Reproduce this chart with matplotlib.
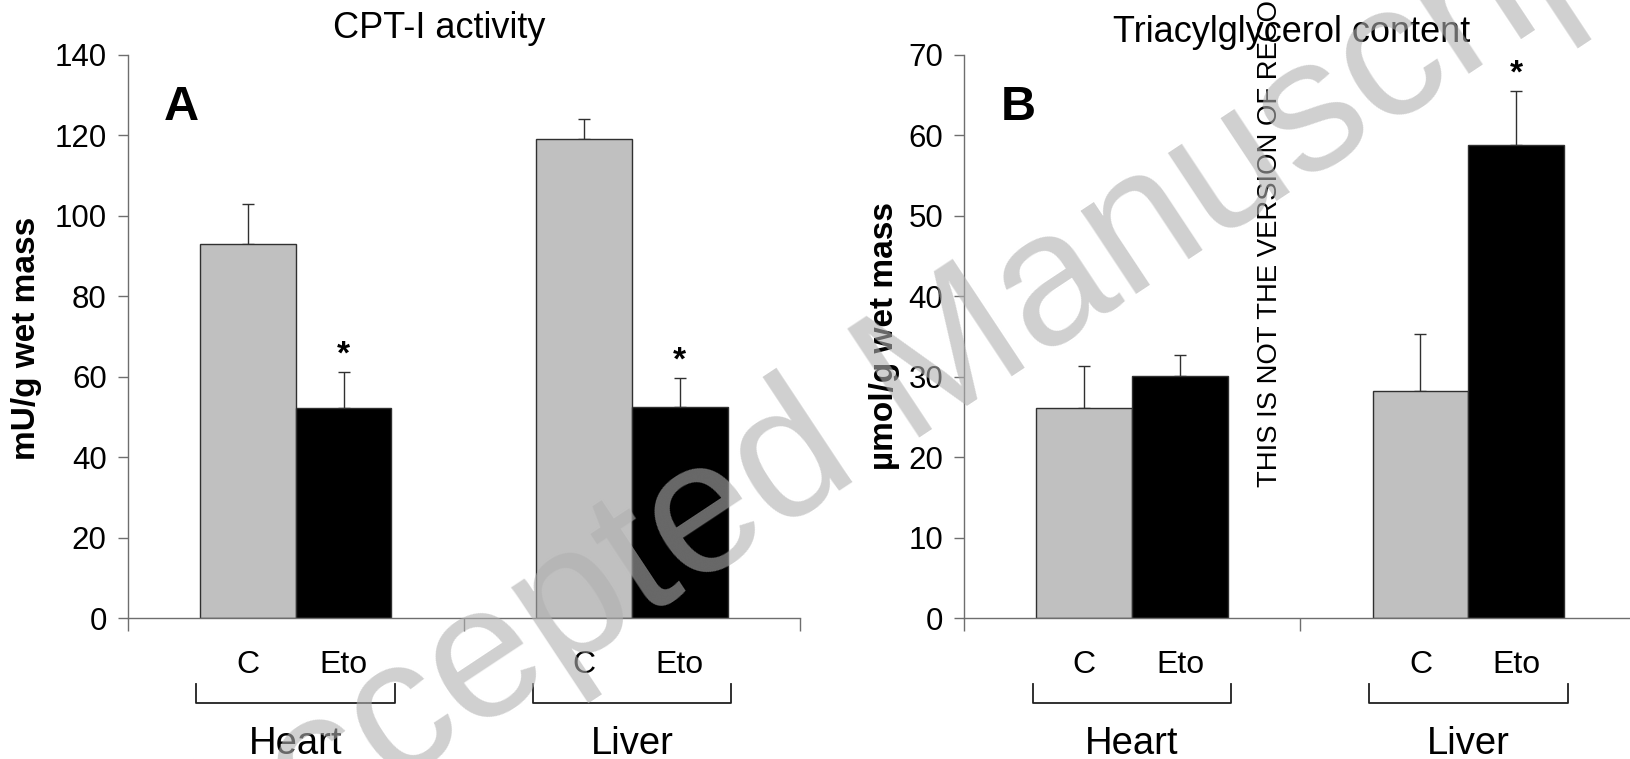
import numpy as np
import matplotlib.pyplot as plt

plt.rcParams['font.family'] = ['Liberation Sans', 'DejaVu Sans']

# values
groups = ['Heart', 'Liver']
treatments = ['C', 'Eto']

cpt_c = [92.9, 119.0]
cpt_c_err = [10.0, 5.0]
cpt_eto = [52.3, 52.5]
cpt_eto_err = [8.8, 7.1]
cpt_star = [True, True]

tag_c = [26.1, 28.2]
tag_c_err = [5.2, 7.1]
tag_eto = [30.1, 58.8]
tag_eto_err = [2.6, 6.7]
tag_star = [False, True]

W, H = 1630, 759
fig = plt.figure(figsize=(W / 100, H / 100), dpi=100)


def fx(x):
    return x / W


def fy(y):
    return 1 - y / H


def ay(y):
    # pixel row -> axes fraction (axes run from row 55 to row 618)
    return (618 - y) / 563.0


bw = 0.285
axis_col = '#6e6e6e'


def panel(rect, c_vals, c_err, e_vals, e_err, stars, ymax, ystep):
    ax = fig.add_axes(rect)
    centers = np.arange(len(groups)) + 0.5
    xc = centers - bw / 2
    xe = centers + bw / 2
    ax.bar(xc, c_vals, bw, color='#c0c0c0', edgecolor='#303030', linewidth=1, zorder=2)
    ax.bar(xe, e_vals, bw, color='black', edgecolor='#303030', linewidth=1, zorder=2)
    ax.errorbar(xc, c_vals, yerr=[np.zeros(len(c_vals)), c_err], fmt='none',
                ecolor='#303030', elinewidth=1, capsize=4, capthick=1, zorder=1)
    ax.errorbar(xe, e_vals, yerr=[np.zeros(len(e_vals)), e_err], fmt='none',
                ecolor='#303030', elinewidth=1, capsize=4, capthick=1, zorder=1)
    for x, v, e, s in zip(xe, e_vals, e_err, stars):
        if s:
            ax.annotate('*', (x, v + e), xytext=(0, 1), textcoords='offset points',
                        ha='center', va='bottom', fontsize=24, fontweight='bold')

    ax.set_xlim(0, 2)
    ax.set_ylim(0, ymax)
    ax.set_yticks(np.arange(0, ymax + 1, ystep))
    ax.set_xticks([0, 1, 2])
    ax.set_xticklabels([])
    for sp in ['top', 'right']:
        ax.spines[sp].set_visible(False)
    for sp in ['left', 'bottom']:
        ax.spines[sp].set_color(axis_col)
        ax.spines[sp].set_linewidth(1)
    ax.tick_params(axis='y', direction='out', length=7, width=1, color=axis_col,
                   labelsize=22.5, pad=8)
    ax.tick_params(axis='x', direction='out', length=9, width=1, color=axis_col)

    trans = ax.get_xaxis_transform()
    for c in centers:
        ax.text(c - bw / 2, ay(673), 'C', transform=trans, ha='center', va='baseline',
                fontsize=23, clip_on=False)
        ax.text(c + bw / 2, ay(673), 'Eto', transform=trans, ha='center', va='baseline',
                fontsize=23, clip_on=False)
        x0, x1 = c - bw - 0.01, c + bw + 0.01
        ax.plot([x0, x0, x1, x1], [ay(684), ay(703), ay(703), ay(684)], transform=trans,
                color='#202020', lw=1.3, clip_on=False)
    for c, g in zip(centers, groups):
        ax.text(c, ay(754), g, transform=trans, ha='center', va='baseline',
                fontsize=27.5, clip_on=False)
    return ax


ax1 = panel([fx(127.5), fy(618), fx(672.5), 563 / H], cpt_c, cpt_c_err, cpt_eto, cpt_eto_err,
            cpt_star, 140, 20)
ax2 = panel([fx(964), fy(618), fx(672.5), 563 / H], tag_c, tag_c_err, tag_eto, tag_eto_err,
            tag_star, 70, 10)

fig.text(fx(439), fy(38), 'CPT-I activity', ha='center', va='baseline', fontsize=26)
fig.text(fx(1292), fy(42), 'Triacylglycerol content', ha='center', va='baseline', fontsize=26)
fig.text(fx(181), fy(120), 'A', ha='center', va='baseline', fontsize=35, fontweight='bold')
fig.text(fx(1018), fy(120), 'B', ha='center', va='baseline', fontsize=35, fontweight='bold')

fig.text(fx(27), fy(338), 'mU/g wet mass', rotation=90, ha='center', va='center',
         fontsize=24, fontweight='bold')
fig.text(fx(884), fy(336), 'µmol/g wet mass', rotation=90, ha='center', va='center',
         fontsize=24, fontweight='bold')

# watermarks
fig.text(fx(1270), fy(487), 'THIS IS NOT THE VERSION OF RECORD', rotation=90,
         ha='center', va='bottom', fontsize=19.8, zorder=10)
fig.text(fx(915), fy(382), 'Accepted Manuscript', rotation=33.5, rotation_mode='anchor',
         ha='center', va='center', fontsize=136, color='#b0b0b0', alpha=0.6, zorder=11)

fig.savefig('out.png', dpi=100)
